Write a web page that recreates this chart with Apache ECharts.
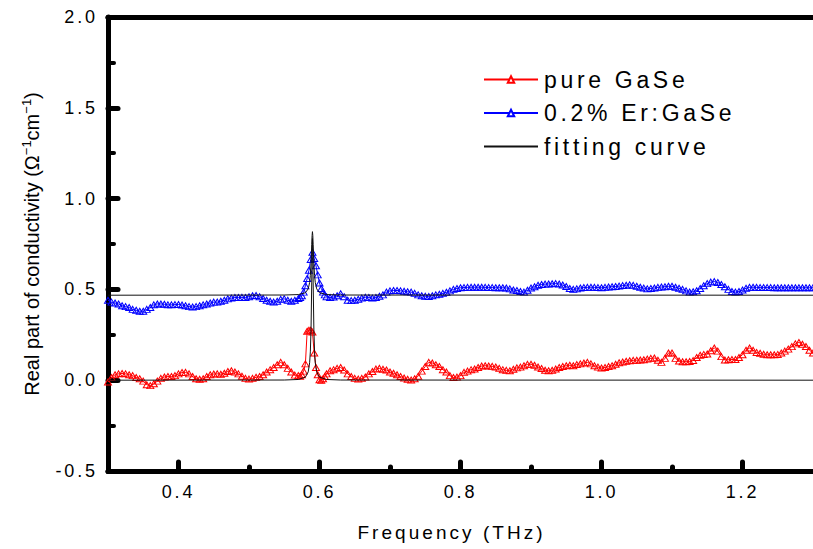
<!DOCTYPE html>
<html><head><meta charset="utf-8">
<script src="https://cdn.jsdelivr.net/npm/echarts@6/dist/echarts.min.js"></script>
<style>
html,body{margin:0;padding:0;background:#fff;}
#chart{width:813px;height:549px;}
#chart text{letter-spacing:0.16em;}
</style></head><body><div id="chart"></div>
<script>
// Frequency grid (THz) shared by the two measured series
const freq = [
0.300,0.305,0.310,0.315,0.320,0.325,0.330,0.335,0.340,0.345,
0.350,0.355,0.360,0.365,0.370,0.375,0.380,0.385,0.390,0.395,
0.400,0.405,0.410,0.415,0.420,0.425,0.430,0.435,0.440,0.445,
0.450,0.455,0.460,0.465,0.470,0.475,0.480,0.485,0.490,0.495,
0.500,0.505,0.510,0.515,0.520,0.525,0.530,0.535,0.540,0.545,
0.550,0.555,0.560,0.565,0.570,
0.5725,0.575,0.5775,0.580,0.5825,0.585,0.5875,0.590,0.5925,0.595,0.5975,0.600,0.6025,0.605,0.6075,0.610,
0.615,0.620,0.625,0.630,0.635,0.640,0.645,
0.650,0.655,0.660,0.665,0.670,0.675,0.680,0.685,0.690,0.695,
0.700,0.705,0.710,0.715,0.720,0.725,0.730,0.735,0.740,0.745,
0.750,0.755,0.760,0.765,0.770,0.775,0.780,0.785,0.790,0.795,
0.800,0.805,0.810,0.815,0.820,0.825,0.830,0.835,0.840,0.845,
0.850,0.855,0.860,0.865,0.870,0.875,0.880,0.885,0.890,0.895,
0.900,0.905,0.910,0.915,0.920,0.925,0.930,0.935,0.940,0.945,
0.950,0.955,0.960,0.965,0.970,0.975,0.980,0.985,0.990,0.995,
1.000,1.005,1.010,1.015,1.020,1.025,1.030,1.035,1.040,1.045,
1.050,1.055,1.060,1.065,1.070,1.075,1.080,1.085,1.090,1.095,
1.100,1.105,1.110,1.115,1.120,1.125,1.130,1.135,1.140,1.145,
1.150,1.155,1.160,1.165,1.170,1.175,1.180,1.185,1.190,1.195,
1.200,1.205,1.210,1.215,1.220,1.225,1.230,1.235,1.240,1.245,
1.250,1.255,1.260,1.265,1.270,1.275,1.280,1.285,1.290,1.295,
1.300
];
// pure GaSe (red triangles)
const pureGaSe = [
-0.01,0.015,0.03,0.035,0.037,0.035,0.03,0.025,0.015,0.008,
-0.005,-0.025,-0.03,-0.02,-0.005,0.01,0.018,0.02,0.02,0.025,
0.035,0.042,0.043,0.035,0.02,0.008,0.005,0.008,0.02,0.03,
0.034,0.035,0.033,0.038,0.048,0.052,0.045,0.035,0.022,0.01,
0.006,0.01,0.016,0.02,0.03,0.045,0.058,0.07,0.085,0.098,
0.085,0.065,0.045,0.028,0.025,
0.022,0.03,0.05,0.09,0.27,0.275,0.275,0.265,0.15,0.07,0.03,0.002,0.0,0.008,0.02,0.035,
0.052,0.058,0.065,0.07,0.056,0.035,0.02,
0.01,0.006,0.01,0.018,0.035,0.048,0.062,0.065,0.06,0.056,
0.045,0.038,0.03,0.02,0.012,0.005,0.001,0.008,0.022,0.05,
0.075,0.098,0.095,0.085,0.075,0.058,0.045,0.025,0.015,0.017,
0.025,0.043,0.05,0.058,0.062,0.07,0.078,0.08,0.078,0.076,
0.073,0.065,0.058,0.054,0.052,0.06,0.068,0.072,0.08,0.087,
0.088,0.082,0.073,0.064,0.055,0.052,0.055,0.062,0.07,0.075,
0.08,0.082,0.08,0.086,0.09,0.095,0.098,0.09,0.08,0.072,
0.067,0.07,0.075,0.08,0.088,0.096,0.1,0.104,0.107,0.109,
0.11,0.111,0.113,0.116,0.12,0.122,0.11,0.098,0.12,0.15,
0.15,0.12,0.106,0.102,0.102,0.103,0.108,0.125,0.137,0.142,
0.144,0.162,0.177,0.16,0.13,0.111,0.113,0.114,0.114,0.125,
0.14,0.165,0.177,0.165,0.153,0.148,0.143,0.14,0.14,0.14,
0.142,0.15,0.16,0.171,0.185,0.2,0.208,0.198,0.186,0.165,
0.15
];
// 0.2% Er:GaSe (blue triangles)
const erGaSe = [
0.44,0.43,0.425,0.42,0.41,0.405,0.40,0.39,0.385,0.38,
0.38,0.39,0.40,0.415,0.42,0.42,0.418,0.415,0.415,0.416,
0.417,0.414,0.41,0.405,0.403,0.405,0.41,0.415,0.42,0.425,
0.43,0.43,0.435,0.44,0.448,0.452,0.455,0.455,0.456,0.455,
0.46,0.465,0.466,0.46,0.45,0.44,0.435,0.43,0.435,0.445,
0.448,0.44,0.435,0.44,0.45,
0.455,0.465,0.485,0.52,0.56,0.605,0.665,0.705,0.67,0.63,0.58,0.535,0.505,0.485,0.47,0.46,
0.455,0.458,0.465,0.476,0.46,0.44,0.438,
0.44,0.445,0.452,0.457,0.455,0.452,0.455,0.462,0.47,0.485,
0.492,0.494,0.494,0.492,0.49,0.487,0.485,0.478,0.47,0.465,
0.462,0.461,0.465,0.47,0.473,0.478,0.484,0.492,0.5,0.505,
0.509,0.51,0.511,0.512,0.512,0.512,0.512,0.511,0.51,0.51,
0.509,0.509,0.509,0.508,0.503,0.497,0.494,0.488,0.485,0.495,
0.508,0.515,0.523,0.527,0.529,0.53,0.531,0.532,0.53,0.524,
0.516,0.505,0.5,0.503,0.508,0.51,0.511,0.512,0.511,0.51,
0.509,0.511,0.513,0.515,0.516,0.518,0.521,0.523,0.525,0.522,
0.517,0.512,0.507,0.503,0.505,0.508,0.511,0.513,0.515,0.517,
0.517,0.512,0.506,0.5,0.492,0.486,0.487,0.493,0.505,0.52,
0.532,0.54,0.543,0.538,0.527,0.515,0.5,0.488,0.485,0.488,
0.497,0.506,0.511,0.512,0.511,0.51,0.51,0.51,0.51,0.509,
0.509,0.509,0.509,0.509,0.509,0.509,0.509,0.509,0.509,0.509,
0.509
];
// fitting curves
const fitFreq = [0.300,0.550,0.570,0.580,0.584,0.586,0.587,0.588,0.589,0.5895,0.590,0.5905,0.591,0.592,0.593,0.594,0.596,0.600,0.610,0.630,1.300];
const fitEr   = [0.468,0.469,0.4715,0.4815,0.503,0.538,0.576,0.643,0.748,0.797,0.818,0.797,0.748,0.643,0.576,0.538,0.503,0.4815,0.4715,0.469,0.468];
const fitPure = [0,0.001,0.004,0.017,0.046,0.096,0.156,0.281,0.54,0.702,0.78,0.702,0.54,0.281,0.156,0.096,0.046,0.017,0.004,0.001,0];
// axis ticks
const xMajorTicks = [0.4,0.6,0.8,1.0,1.2];
const xMinorTicks = [0.5,0.7,0.9,1.1];
const xTopTicks = [0.4,0.5,0.6,0.7,0.8,0.9,1.0,1.1,1.2];
const names = ['pure GaSe','0.2% Er:GaSe','fitting curve'];

const FONT = 'Liberation Sans';
const pairs = (xs, ys) => xs.map((x, i) => [x, ys[i]]);
const chart = echarts.init(document.getElementById('chart'), null, {renderer: 'svg'});
const thick = {color: '#000', width: 5, cap: 'round'};

chart.setOption({
  animation: false,
  backgroundColor: '#fff',
  grid: {left: 108, right: -4, top: 17, bottom: 78},
  legend: {
    orient: 'vertical', left: 478, top: 63, itemGap: 10.5,
    itemWidth: 54, itemHeight: 8,
    data: [
      {name: names[0], itemStyle: {color: '#fff'}},
      {name: names[1], itemStyle: {color: '#fff'}},
      {name: names[2], itemStyle: {opacity: 0}}
    ],
    textStyle: {fontSize: 23, fontFamily: FONT, color: '#000', padding: [0, 0, 0, 1]}
  },
  xAxis: [
    {type: 'value', min: 0.3, max: 1.3, position: 'bottom',
     axisLine: {show: true, onZero: false, lineStyle: thick},
     axisTick: {show: true, inside: true, length: 9, customValues: xMajorTicks, lineStyle: thick},
     axisLabel: {customValues: xMajorTicks, formatter: v => v.toFixed(1), color: '#000', fontSize: 18, fontFamily: FONT, margin: 12},
     splitLine: {show: false},
     name: 'Frequency (THz)', nameLocation: 'middle', nameGap: 52,
     nameTextStyle: {fontSize: 19, fontFamily: FONT, color: '#000', padding: [0, 18, 0, 0]}},
    {type: 'value', min: 0.3, max: 1.3, position: 'bottom',
     axisLine: {show: false, onZero: false},
     axisTick: {show: true, inside: true, length: 4, customValues: xMinorTicks, lineStyle: thick},
     axisLabel: {show: false}, splitLine: {show: false}},
    {type: 'value', min: 0.3, max: 1.3, position: 'top',
     axisLine: {show: true, onZero: false, lineStyle: thick},
     axisTick: {show: true, inside: true, length: 1, customValues: xTopTicks, lineStyle: {color: '#000', width: 2}},
     axisLabel: {show: false}, splitLine: {show: false}}
  ],
  yAxis: [
    {type: 'value', min: -0.5, max: 2.0, interval: 0.5,
     axisLine: {show: true, onZero: false, lineStyle: thick},
     axisTick: {show: true, inside: true, length: 10, lineStyle: thick},
     minorTick: {show: true, splitNumber: 2, length: 6, lineStyle: {color: '#000', width: 4, cap: 'round'}},
     axisLabel: {formatter: v => v.toFixed(1), color: '#000', fontSize: 18, fontFamily: FONT, margin: 10},
     splitLine: {show: false},
     name: 'Real part of conductivity (Ω{sup|−1}cm{sup|−1})',
     nameLocation: 'middle', nameGap: 64,
     nameTextStyle: {fontSize: 20, fontFamily: FONT, color: '#000', lineHeight: 24,
       rich: {sup: {fontSize: 13, fontFamily: FONT, color: '#000', verticalAlign: 'top', lineHeight: 12}}}}
  ],
  series: [
    {name: names[0], type: 'line', xAxisIndex: 0, data: pairs(freq, pureGaSe),
     symbol: 'triangle', symbolSize: [7, 6], color: '#ff0000',
     lineStyle: {color: '#ff0000', width: 1},
     itemStyle: {color: 'rgba(255,255,255,0)', borderColor: '#ff0000', borderWidth: 1}, z: 2},
    {name: names[1], type: 'line', xAxisIndex: 0, data: pairs(freq, erGaSe),
     symbol: 'triangle', symbolSize: [7, 6], color: '#0000ff',
     lineStyle: {color: '#0000ff', width: 1},
     itemStyle: {color: 'rgba(255,255,255,0)', borderColor: '#0000ff', borderWidth: 1}, z: 2},
    {name: names[2], type: 'line', xAxisIndex: 0, data: pairs(fitFreq, fitPure),
     symbol: 'none', color: '#000', lineStyle: {color: '#111', width: 1}, z: 3},
    {name: names[2], type: 'line', xAxisIndex: 0, data: pairs(fitFreq, fitEr),
     symbol: 'none', color: '#000', lineStyle: {color: '#111', width: 1}, z: 3}
  ]
});

function fixSpacing() {
  const ytitleParts = ['Real part of conductivity (Ω', '−1', 'cm', ')'];
  document.querySelectorAll('#chart text').forEach(t => {
    if (ytitleParts.includes(t.textContent)) t.style.letterSpacing = '0px';
  });
}
chart.on('finished', fixSpacing);
setTimeout(fixSpacing, 50);
</script></body></html>
